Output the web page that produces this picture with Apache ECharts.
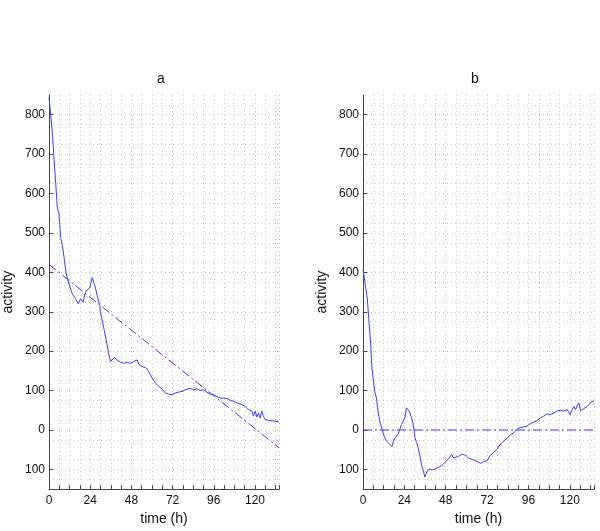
<!DOCTYPE html>
<html>
<head>
<meta charset="utf-8">
<script src="https://cdn.jsdelivr.net/npm/echarts@6/dist/echarts.min.js"></script>
<style>html,body{margin:0;padding:0;background:#fff}#c{width:600px;height:531px}</style>
</head>
<body>
<div id="c"></div>
<script>
// ---- data ----
var panelTitles = ['a', 'b'];
var xTicks = [0, 24, 48, 72, 96, 120];
var yTicks = [-100, 0, 100, 200, 300, 400, 500, 600, 700, 800];

var timeA = [0, 1, 2, 2.9, 3.9, 4.9, 5.8, 6.8, 7.8, 8.7, 9.7, 10.7, 12, 13.6, 15.5, 17, 18.4, 19.8, 21.3, 23.8,
  25.2, 27.1, 28.5, 29.6, 30, 32, 33.9, 34.9, 35.9, 36.8, 38.2, 39.7, 41.7, 43.6, 45.6, 47.5, 49.4, 51.4, 52.3,
  54.3, 56.8, 58.1, 59.1, 60.1, 62, 63.9, 65.9, 67.8, 69.7, 71.7, 73.6, 75.5, 77.5, 79.4, 80.5, 82.3, 84.3, 86.2,
  88.1, 90.1, 92, 94, 95.9, 97.8, 99.8, 101.7, 103.7, 105.6, 107.5, 109.5, 112.4, 114.3, 116.2, 118.2, 119.1,
  120.1, 121.1, 122, 123, 124, 124.9, 125.9, 127.8, 130.7, 133.9];
var activityA = [845, 798, 752, 690, 626, 561, 551, 488, 468, 440, 406, 383, 366, 345, 333, 320, 333, 324, 350, 362,
  387, 360, 333, 316, 299, 257, 215, 190, 174, 178, 184, 178, 172, 169, 172, 169, 174, 178, 167,
  161, 157, 148, 140, 132, 119, 111, 104, 94, 91, 90, 94, 96, 98, 102, 104, 106, 102, 105,
  100, 102, 96, 91, 90, 85, 81, 81, 80, 75, 73, 69, 64, 60, 52, 48, 35,
  48, 33, 43, 31, 48, 35, 27, 24, 23, 20];
var fitTimeA = [0, 134];
var fitA = [420, -45];

var timeB = [0, 1.4, 2.5, 3.5, 4.5, 5.2, 5.8, 6.8, 7.8, 8.7, 9.7, 11.1, 12.2, 13.6, 15.5, 16.8, 18, 19, 20.3, 22.4,
  24.3, 25.2, 26.8, 28.2, 29.1, 29.7, 30.1, 31.1, 32, 33, 33.9, 34.9, 35.9, 37.4, 38.8, 40.1, 41.7, 43.6, 45.6,
  47.5, 49.5, 51.4, 52.6, 55.3, 57.8, 59.8, 61.2, 62.2, 64.1, 66.4, 68.4, 69.9, 71.9, 73.8, 75.7, 77.7, 79.6,
  81.5, 83.5, 85.4, 87.4, 89.3, 91.3, 93.2, 95.2, 97.1, 99, 101, 102.9, 104.8, 106.8, 108.7, 110.7, 112.6, 114.6,
  116.5, 118.5, 120, 121.4, 122.3, 123.3, 124.3, 125.2, 126.2, 128.1, 130.1, 132, 134];
var activityB = [408, 366, 333, 274, 215, 157, 152, 98, 81, 48, 23, 1, -15, -28, -36, -42, -24, -28, -11, 14,
  31, 56, 48, 31, 14, -3, -19, -32, -45, -65, -87, -103, -119, -103, -99, -101, -99, -95, -91,
  -82, -74, -62, -71, -67, -61, -65, -71, -68, -76, -80, -85, -80, -78, -65, -57, -49, -36,
  -29, -21, -13, -7, 2, 6, 8, 10, 16, 20, 24, 31, 35, 41, 39, 43, 48, 50,
  48, 52, 39, 52, 60, 52, 63, 69, 49, 54, 60, 69, 75];
var fitTimeB = [0, 134];
var fitB = [0, 0];

// ---- chart ----
function pairs(xs, ys) { return xs.map(function (x, i) { return [x, ys[i]]; }); }
var FONT = 'Liberation Sans';
var LINE = '#3c3cff';
var grids = [
  { left: 48, top: 95, width: 231, height: 397 },
  { left: 363, top: 95, width: 231, height: 397 }
];
function xAxisFor(i) {
  return {
    gridIndex: i, type: 'value', min: 0, max: 134, interval: 24,
    name: 'time (h)', nameLocation: 'middle', nameGap: 17,
    nameTextStyle: { fontFamily: FONT, fontSize: 14, color: '#111' },
    axisLine: { show: true, onZero: false, lineStyle: { color: '#444', width: 1 } },
    axisTick: { show: true, inside: true, length: 4, lineStyle: { color: '#444' } },
    minorTick: { show: true, splitNumber: 4, length: 4, lineStyle: { color: '#444' } },
    axisLabel: { fontFamily: FONT, fontSize: 12, color: '#111', margin: 6, customValues: xTicks },
    splitLine: { show: true, lineStyle: { color: '#c0c0c0', type: [1, 3] } },
    minorSplitLine: { show: true, lineStyle: { color: '#c8c8c8', type: [1, 3] } }
  };
}
function yAxisFor(i) {
  return {
    gridIndex: i, type: 'value', min: -150, max: 850, interval: 50,
    name: 'activity', nameLocation: 'middle', nameGap: 34,
    nameTextStyle: { fontFamily: FONT, fontSize: 14, color: '#111' },
    axisLine: { show: true, onZero: false, lineStyle: { color: '#444', width: 1 } },
    axisTick: { show: true, inside: true, length: 4, lineStyle: { color: '#444' }, customValues: yTicks },
    axisLabel: { fontFamily: FONT, fontSize: 12, color: '#111', margin: 4, customValues: yTicks,
      formatter: function (v) { return String(Math.abs(v)); } },
    splitLine: { show: true, lineStyle: { color: '#c0c0c0', type: [1, 3] } },
    minorTick: { show: false, splitNumber: 2 },
    minorSplitLine: { show: true, lineStyle: { color: '#c8c8c8', type: [1, 3] } }
  };
}
var chart = echarts.init(document.getElementById('c'), null, { renderer: 'canvas' });
chart.setOption({
  animation: false,
  backgroundColor: '#fff',
  title: [
    { text: panelTitles[0], left: 157, top: 72, padding: 0, textStyle: { fontFamily: FONT, fontSize: 14, fontWeight: 'normal', color: '#111' } },
    { text: panelTitles[1], left: 471, top: 72, padding: 0, textStyle: { fontFamily: FONT, fontSize: 14, fontWeight: 'normal', color: '#111' } }
  ],
  grid: grids,
  xAxis: [xAxisFor(0), xAxisFor(1)],
  yAxis: [yAxisFor(0), yAxisFor(1)],
  series: [
    { type: 'line', xAxisIndex: 0, yAxisIndex: 0, data: pairs(timeA, activityA), showSymbol: false,
      lineStyle: { color: LINE, width: 1 } },
    { type: 'line', xAxisIndex: 0, yAxisIndex: 0, data: pairs(fitTimeA, fitA), showSymbol: false,
      lineStyle: { color: LINE, width: 1, type: [9, 3, 2, 3] } },
    { type: 'line', xAxisIndex: 1, yAxisIndex: 1, data: pairs(timeB, activityB), showSymbol: false,
      lineStyle: { color: LINE, width: 1 } },
    { type: 'line', xAxisIndex: 1, yAxisIndex: 1, data: pairs(fitTimeB, fitB), showSymbol: false,
      lineStyle: { color: LINE, width: 1, type: [9, 3, 2, 3] } }
  ]
});
</script>
</body>
</html>
